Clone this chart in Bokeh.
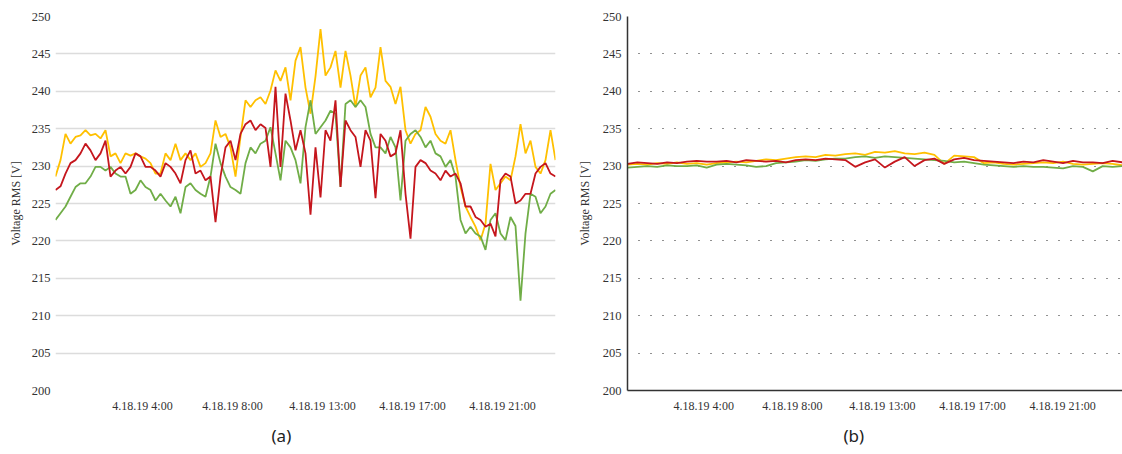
from bokeh.plotting import figure
from bokeh.models import Range1d, FixedTicker, Title
from bokeh.layouts import row
from bokeh.embed import file_html
from bokeh.resources import INLINE

# ---------------- data ----------------
tick_labels = ["4.18.19 4:00", "4.18.19 8:00", "4.18.19 13:00", "4.18.19 17:00", "4.18.19 21:00"]
tick_pos_a = [17.4, 35.4, 53.4, 71.4, 89.4]
tick_pos_b = [15.4, 33.3, 51.5, 69.7, 87.9]
y_ticks = [200, 205, 210, 215, 220, 225, 230, 235, 240, 245, 250]

# panel (a): 101 samples
yellow_a = [228.6, 230.8, 234.3, 233.0, 233.9, 234.1, 234.8, 234.1, 234.3, 233.7,
            234.8, 231.3, 231.7, 230.4, 231.7, 231.4, 231.7, 231.3, 231.0, 230.4,
            229.0, 229.0, 231.7, 230.8, 233.0, 230.8, 231.7, 230.8, 231.7, 229.9,
            230.4, 231.7, 236.1, 233.9, 234.3, 232.5, 228.6, 233.9, 238.8, 237.9,
            238.8, 239.2, 238.3, 240.1, 242.8, 241.4, 243.2, 238.8, 244.1, 245.9,
            240.5, 237.0, 242.0, 248.3, 242.1, 243.2, 245.4, 240.5, 245.4, 242.1,
            237.9, 242.1, 243.2, 239.2, 240.5, 245.9, 241.4, 240.6, 238.3, 240.6,
            234.8, 233.0, 234.3, 234.8, 237.9, 236.6, 234.3, 233.4, 233.0, 234.8,
            230.8, 227.2, 224.6, 223.2, 221.9, 220.1, 222.3, 230.3, 226.8, 227.7,
            228.6, 228.1, 231.3, 235.6, 231.7, 233.4, 229.9, 229.0, 230.8, 234.8,
            230.8]
red_a = [226.8, 227.3, 229.0, 230.4, 230.8, 231.7, 233.0, 232.1, 230.8, 231.7,
         233.4, 228.6, 229.4, 229.9, 229.0, 229.9, 231.7, 231.3, 229.9, 229.9,
         229.4, 228.6, 230.4, 229.9, 229.0, 227.7, 230.8, 232.1, 229.0, 229.4,
         228.1, 228.6, 222.5, 228.6, 232.5, 233.4, 230.8, 234.3, 235.6, 236.1,
         234.8, 235.6, 235.1, 229.9, 240.6, 229.9, 239.7, 236.1, 232.1, 234.8,
         231.7, 223.5, 232.5, 225.8, 234.8, 233.4, 238.8, 227.2, 236.1, 234.8,
         233.9, 229.9, 234.8, 233.4, 225.7, 234.3, 233.4, 231.3, 231.7, 234.8,
         226.3, 220.3, 229.9, 230.8, 230.4, 229.4, 229.0, 228.1, 229.4, 228.6,
         229.0, 227.7, 224.6, 224.6, 223.2, 222.8, 221.9, 222.3, 220.6, 228.1,
         229.0, 228.6, 225.0, 225.4, 226.3, 226.3, 229.0, 229.9, 230.4, 229.0,
         228.6]
green_a = [222.8, 223.7, 224.6, 225.9, 227.2, 227.7, 227.7, 228.6, 229.9, 229.9,
           229.4, 229.9, 229.0, 228.6, 228.6, 226.3, 226.8, 228.1, 227.2, 226.8,
           225.4, 226.3, 225.4, 224.6, 225.9, 223.7, 227.2, 227.7, 226.8, 226.3,
           225.9, 228.6, 233.0, 230.4, 228.6, 227.2, 226.8, 226.3, 230.4, 232.5,
           231.7, 233.0, 233.4, 235.2, 231.7, 228.1, 233.4, 232.5, 230.8, 227.7,
           235.2, 238.8, 234.3, 235.2, 236.1, 237.4, 237.0, 227.2, 238.3, 238.8,
           237.9, 238.8, 237.9, 234.3, 232.5, 232.5, 231.7, 233.9, 232.5, 225.4,
           233.4, 234.3, 234.8, 233.9, 232.5, 233.4, 231.7, 231.3, 229.9, 230.8,
           228.6, 222.8, 221.0, 221.9, 221.0, 220.6, 218.8, 222.8, 223.7, 221.0,
           220.1, 223.2, 222.0, 212.0, 221.0, 226.3, 225.9, 223.7, 224.6, 226.3,
           226.8]

# panel (b): 51 samples
yellow_b = [230.2, 230.3, 230.2, 230.4, 230.3, 230.5, 230.3, 230.4, 230.2, 230.4,
            230.5, 230.6, 230.5, 230.7, 230.9, 230.8, 231.0, 231.2, 231.3, 231.2,
            231.5, 231.4, 231.6, 231.7, 231.5, 231.9, 231.8, 232.0, 231.7, 231.6,
            231.8, 231.5, 230.3, 231.4, 231.3, 231.2, 230.4, 230.5, 230.3, 230.2,
            230.3, 230.4, 230.5, 230.4, 230.6, 230.3, 230.2, 230.3, 230.4, 230.3,
            230.1]
red_b = [230.3, 230.5, 230.4, 230.3, 230.5, 230.4, 230.6, 230.7, 230.6, 230.6,
         230.7, 230.5, 230.8, 230.7, 230.6, 230.7, 230.5, 230.8, 230.9, 230.8,
         231.0, 230.9, 230.8, 229.9, 230.5, 230.9, 229.8, 230.6, 231.2, 230.0,
         230.8, 231.0, 230.3, 230.9, 231.1, 230.8, 230.7, 230.6, 230.5, 230.4,
         230.6, 230.5, 230.8, 230.6, 230.4, 230.7, 230.5, 230.5, 230.4, 230.7,
         230.5]
green_b = [229.8, 229.9, 230.0, 229.9, 230.1, 230.0, 230.0, 230.1, 229.8, 230.2,
           230.3, 230.2, 230.1, 229.9, 230.0, 230.4, 230.5, 230.6, 230.8, 230.7,
           230.9, 231.0, 231.0, 231.2, 231.3, 231.1, 231.3, 231.2, 231.1, 231.0,
           230.9, 230.8, 230.7, 230.5, 230.6, 230.4, 230.2, 230.1, 230.0, 229.9,
           230.0, 229.9, 229.9, 229.8, 229.7, 230.0, 229.9, 229.3, 230.0, 229.9,
           230.0]

t_a = list(range(len(yellow_a)))
t_b = [2 * k for k in range(len(yellow_b))]

YELLOW = "#FFC000"
GREEN = "#70AD47"
RED = "#C5161D"
SERIF = "Liberation Serif"


def make_fig(width, left, bottom, right):
    p = figure(width=width, height=454, output_backend="svg", toolbar_location=None,
               x_range=Range1d(0, 100), y_range=Range1d(200, 250),
               min_border_left=left, min_border_right=right,
               min_border_top=16, min_border_bottom=bottom)
    p.outline_line_color = None
    p.background_fill_color = "white"
    p.border_fill_color = "white"
    p.xgrid.grid_line_color = None
    p.yaxis.ticker = FixedTicker(ticks=y_ticks)
    p.yaxis.axis_label = "Voltage RMS [V]"
    for ax in (p.xaxis[0], p.yaxis[0]):
        ax.major_label_text_font = SERIF
        ax.major_label_text_font_size = "12.5px"
        ax.major_label_text_color = "#333333"
        ax.major_tick_line_color = None
        ax.minor_tick_line_color = None
        ax.major_tick_out = 0
        ax.major_tick_in = 0
        ax.minor_tick_out = 0
        ax.minor_tick_in = 0
    p.xaxis.major_label_text_font_size = "12px"
    p.yaxis.axis_label_text_font = SERIF
    p.yaxis.axis_label_text_font_style = "normal"
    p.yaxis.axis_label_text_font_size = "12px"
    p.yaxis.axis_label_text_color = "#333333"
    p.xaxis.major_label_standoff = 8
    return p


def time_axis(p, positions):
    p.xaxis.ticker = FixedTicker(ticks=positions, minor_ticks=[])
    p.xaxis.major_label_overrides = {k: v for k, v in zip(positions, tick_labels)}


def caption(text, offset):
    return Title(text=text, align="left", offset=offset, standoff=12,
                 text_font="Noto Sans", text_font_size="17px",
                 text_font_style="normal", text_color="#222222")


# ---------- panel (a) ----------
pa = make_fig(570, 55, 64, 15)
time_axis(pa, tick_pos_a)
pa.xaxis.axis_line_color = None
pa.yaxis.axis_line_color = None
pa.yaxis.major_label_standoff = 5
pa.yaxis.axis_label_standoff = 6
pa.ygrid.grid_line_color = "#DCDCDC"
pa.ygrid.grid_line_width = 1.3

pa.line(t_a, yellow_a, line_color=YELLOW, line_width=1.8)
pa.line(t_a, green_a, line_color=GREEN, line_width=1.8)
pa.line(t_a, red_a, line_color=RED, line_width=1.8)
pa.add_layout(caption("(a)", 216), "below")

# ---------- panel (b) ----------
pb = make_fig(552, 57, 61, 0)
time_axis(pb, tick_pos_b)
for ax in (pb.xaxis[0], pb.yaxis[0]):
    ax.axis_line_color = "#333333"
    ax.axis_line_width = 1.5
pb.yaxis.major_label_standoff = 6
pb.yaxis.axis_label_standoff = 8
pb.ygrid.grid_line_color = "#222222"
pb.ygrid.grid_line_width = 1.2
pb.ygrid.grid_line_dash = "1 11"
pb.ygrid.grid_line_dash_offset = 1

pb.line(t_b, yellow_b, line_color=YELLOW, line_width=1.8)
pb.line(t_b, green_b, line_color=GREEN, line_width=1.8)
pb.line(t_b, red_b, line_color=RED, line_width=1.8)
pb.add_layout(caption("(b)", 216), "below")

layout = row(pa, pb)
open("out.html", "w").write(file_html(layout, INLINE))
